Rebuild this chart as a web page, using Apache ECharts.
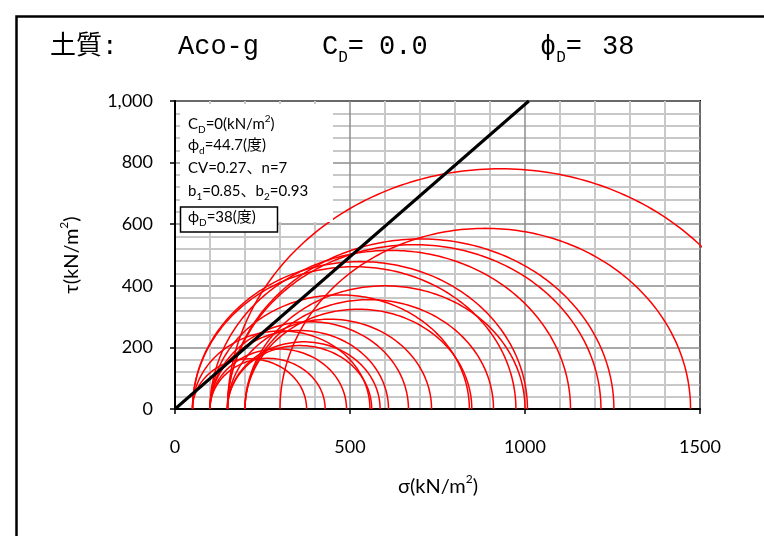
<!DOCTYPE html>
<html><head><meta charset="utf-8">
<script src="https://cdn.jsdelivr.net/npm/echarts@6/dist/echarts.min.js"></script>
<style>html,body{margin:0;padding:0;background:#fff}#c{width:764px;height:536px}</style>
</head><body><div id="c"></div>
<script>
// Mohr circles: minor / major principal stresses (kN/m2)
const sigma3 = [50, 100, 100, 50, 150, 150, 100, 100, 150, 100, 200, 200, 50, 200, 50, 100, 150, 150, 300, 150];
const sigma1 = [376, 429, 490, 557, 562, 586, 610, 667, 733, 841, 848, 910, 974, 1000, 1007, 1130, 1217, 1254, 1473, 1710];
// strength line tau = sigma * tan(44.7deg)
const lineSigma = [0, 1011];
const lineTau = [0, 1000];
const xTicks = [0, 500, 1000, 1500];
const yTicks = [0, 200, 400, 600, 800, 1000];

const chart = echarts.init(document.getElementById('c'), null, {renderer: 'canvas'});
const series = [];
for (let i = 0; i < sigma3.length; i++) {
  const c = (sigma1[i] + sigma3[i]) / 2, r = (sigma1[i] - sigma3[i]) / 2;
  const pts = [];
  const N = 160;
  for (let k = 0; k <= N; k++) {
    const t = Math.PI * k / N;
    pts.push([c + r * Math.cos(t), r * Math.sin(t)]);
  }
  series.push({type: 'line', data: pts, symbol: 'none', silent: true, clip: true, z: 3,
    lineStyle: {color: '#ff0000', width: 1.5}});
}
series.push({type: 'line', data: lineSigma.map((s, i) => [s, lineTau[i]]), symbol: 'none', silent: true, clip: true, z: 4,
  lineStyle: {color: '#000', width: 3}});

const tickFont = {fontFamily: 'Lato, "Open Sans", sans-serif', fontSize: 18, color: '#000'};
const boxFont = 'Lato, "Noto Sans CJK JP", sans-serif';
const titleFont = '"Liberation Mono", "Noto Sans CJK JP", monospace';
const sub = {fontSize: 10, fontFamily: boxFont, verticalAlign: 'bottom', padding: [0, 0, -3, 0]};
const sup = {fontSize: 10, fontFamily: boxFont, verticalAlign: 'top', padding: [-3, 0, 0, 0]};

chart.setOption({
  animation: false,
  grid: {left: 175, top: 101, width: 525, height: 308, show: true, borderColor: '#000', borderWidth: 2, backgroundColor: '#fff'},
  xAxis: {type: 'value', min: 0, max: 1500, interval: 500,
    axisLine: {show: true, lineStyle: {color: '#000', width: 2}},
    axisTick: {show: true, inside: false, length: 5, lineStyle: {color: '#000', width: 1.5}},
    axisLabel: Object.assign({margin: 29, customValues: xTicks, formatter: v => String(v)}, tickFont),
    splitLine: {show: true, lineStyle: {color: '#8c8c8c', width: 1.5}},
    minorTick: {show: false, splitNumber: 5},
    minorSplitLine: {show: true, lineStyle: {color: '#c8c8c8', width: 2}}
  },
  yAxis: {type: 'value', min: 0, max: 1000, interval: 200,
    axisLine: {show: true, lineStyle: {color: '#000', width: 2}},
    axisTick: {show: true, inside: false, length: 5, lineStyle: {color: '#000', width: 1.5}},
    axisLabel: Object.assign({margin: 22, customValues: yTicks, formatter: v => v >= 1000 ? '1,000' : String(v)}, tickFont),
    splitLine: {show: true, lineStyle: {color: '#8c8c8c', width: 1.5}},
    minorTick: {show: false, splitNumber: 5},
    minorSplitLine: {show: true, lineStyle: {color: '#c8c8c8', width: 2}}
  },
  series: series,
  graphic: [
    {type: 'rect', z: 0, shape: {x: 16.5, y: 16.5, width: 800, height: 600}, style: {fill: 'none', stroke: '#000', lineWidth: 2.5}},
    {type: 'text', z: 100, left: 50, top: 34, style: {text: '土質:', font: '26px ' + titleFont, fill: '#000'}},
    {type: 'text', z: 100, left: 178, top: 33, style: {text: 'Aco-g', font: '27px ' + titleFont, fill: '#000'}},
    {type: 'text', z: 100, left: 322, top: 33, style: {text: '{a|C}{s|D}{a|=}', fill: '#000',
      rich: {a: {fontSize: 27, fontFamily: titleFont}, s: {fontSize: 16, fontFamily: titleFont, verticalAlign: 'bottom', padding: [0, 0, -6, 0]}}}},
    {type: 'text', z: 100, left: 379, top: 33, style: {text: '0.0', font: '27px ' + titleFont, fill: '#000'}},
    {type: 'text', z: 100, left: 540, top: 33, style: {text: '{a|ϕ}{s|D}{a|=}', fill: '#000',
      rich: {a: {fontSize: 27, fontFamily: titleFont}, s: {fontSize: 16, fontFamily: titleFont, verticalAlign: 'bottom', padding: [0, 0, -6, 0]}}}},
    {type: 'text', z: 100, left: 602, top: 33, style: {text: '38', font: '27px ' + titleFont, fill: '#000'}},
    // axis names
    {type: 'text', z: 100, x: 72, y: 255, rotation: Math.PI / 2, style: {text: 'τ(kN/m{p|2})', fill: '#000', align: 'center', verticalAlign: 'middle',
      font: '20px ' + boxFont, rich: {p: {fontSize: 12, fontFamily: boxFont, verticalAlign: 'top', padding: [-4, 0, 0, 0]}}}},
    {type: 'text', z: 100, x: 438, y: 487, style: {text: 'σ(kN/m{p|2})', fill: '#000', align: 'center', verticalAlign: 'middle',
      font: '20px ' + boxFont, rich: {p: {fontSize: 12, fontFamily: boxFont, verticalAlign: 'top', padding: [-4, 0, 0, 0]}}}},
    // info box
    {type: 'rect', z: 90, shape: {x: 180, y: 104, width: 153, height: 118}, style: {fill: '#fff', stroke: 'none'}},
    {type: 'rect', z: 91, shape: {x: 180.5, y: 207, width: 97, height: 25}, style: {fill: '#fff', stroke: '#000', lineWidth: 1.5}},
    {type: 'text', z: 100, left: 188, top: 114, style: {text: 'C{s|D}=0(kN/m{p|2})', font: '15px ' + boxFont, fill: '#000', rich: {s: sub, p: sup}}},
    {type: 'text', z: 100, left: 188, top: 138, style: {text: 'ϕ{s|d}=44.7(度)', font: '15px ' + boxFont, fill: '#000', rich: {s: sub}}},
    {type: 'text', z: 100, left: 188, top: 161, style: {text: 'CV=0.27、n=7', font: '15px ' + boxFont, fill: '#000'}},
    {type: 'text', z: 100, left: 188, top: 184, style: {text: 'b{s|1}=0.85、b{s|2}=0.93', font: '15px ' + boxFont, fill: '#000', rich: {s: sub}}},
    {type: 'text', z: 100, left: 188, top: 210, style: {text: 'ϕ{s|D}=38(度)', font: '15px ' + boxFont, fill: '#000', rich: {s: sub}}}
  ]
});
</script></body></html>
